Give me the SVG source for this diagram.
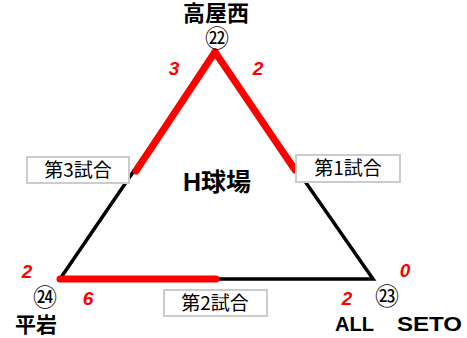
<svg xmlns="http://www.w3.org/2000/svg" width="467" height="338" viewBox="0 0 467 338">
<style>
.blk{stroke:#000;stroke-width:3.5;fill:none;stroke-linecap:round}
.red{stroke:#ff0000;stroke-width:7;fill:none;stroke-linecap:round}
.box{fill:#fff;stroke:#cccccc;stroke-width:2}
.lbl{font-family:"Noto Sans CJK JP","Liberation Sans",sans-serif;font-size:19px;fill:#000;text-anchor:middle}
.name{font-family:"Liberation Sans","Noto Sans CJK JP",sans-serif;font-weight:bold;fill:#000;text-anchor:middle}
.sc{font-family:"Liberation Sans",sans-serif;font-weight:bold;font-style:italic;font-size:19px;fill:#ff0000;text-anchor:middle}
.cir{font-family:"Noto Sans CJK JP","DejaVu Sans",sans-serif;font-size:24px;fill:#000;text-anchor:middle}
</style>
<rect width="467" height="338" fill="#fff"/>
<g id="connectors">
<polygon class="blk" points="215,52 60,279 373,279" stroke-linejoin="miter"/>
<line class="red" x1="215" y1="52" x2="136" y2="171"/>
<line class="red" x1="215" y1="52" x2="295" y2="170"/>
<line class="red" x1="60" y1="279" x2="216" y2="279"/>
</g>
<g id="center"><text class="name" x="217" y="191" font-size="25">H球場</text></g>
<g id="node-takayanishi">
<text class="name" x="216" y="21" font-size="22">高屋西</text>
<text class="cir" x="217" y="47" font-size="23">㉒</text>
<text class="sc" x="174" y="75">3</text>
<text class="sc" x="258" y="75">2</text>
</g>
<g id="node-hiraiwa">
<text class="name" x="36" y="332" font-size="21">平岩</text>
<text class="cir" x="45" y="306">㉔</text>
<text class="sc" x="27" y="278">2</text>
<text class="sc" x="88" y="305">6</text>
</g>
<g id="node-allseto">
<text class="name" y="331" font-size="21" style="text-anchor:start"><tspan x="335" textLength="39" lengthAdjust="spacingAndGlyphs">ALL</tspan><tspan x="397" textLength="65" lengthAdjust="spacingAndGlyphs">SETO</tspan></text>
<text class="cir" x="387" y="305">㉓</text>
<text class="sc" x="405" y="277">0</text>
<text class="sc" x="347" y="305">2</text>
</g>
<g id="game3"><rect class="box" x="27" y="157" width="102" height="26"/><text class="lbl" x="78" y="177">第3試合</text></g>
<g id="game1"><rect class="box" x="296" y="155" width="104" height="27"/><text class="lbl" x="348" y="175">第1試合</text></g>
<g id="game2"><rect class="box" x="164" y="290" width="103" height="26"/><text class="lbl" x="215" y="310">第2試合</text></g>
</svg>
